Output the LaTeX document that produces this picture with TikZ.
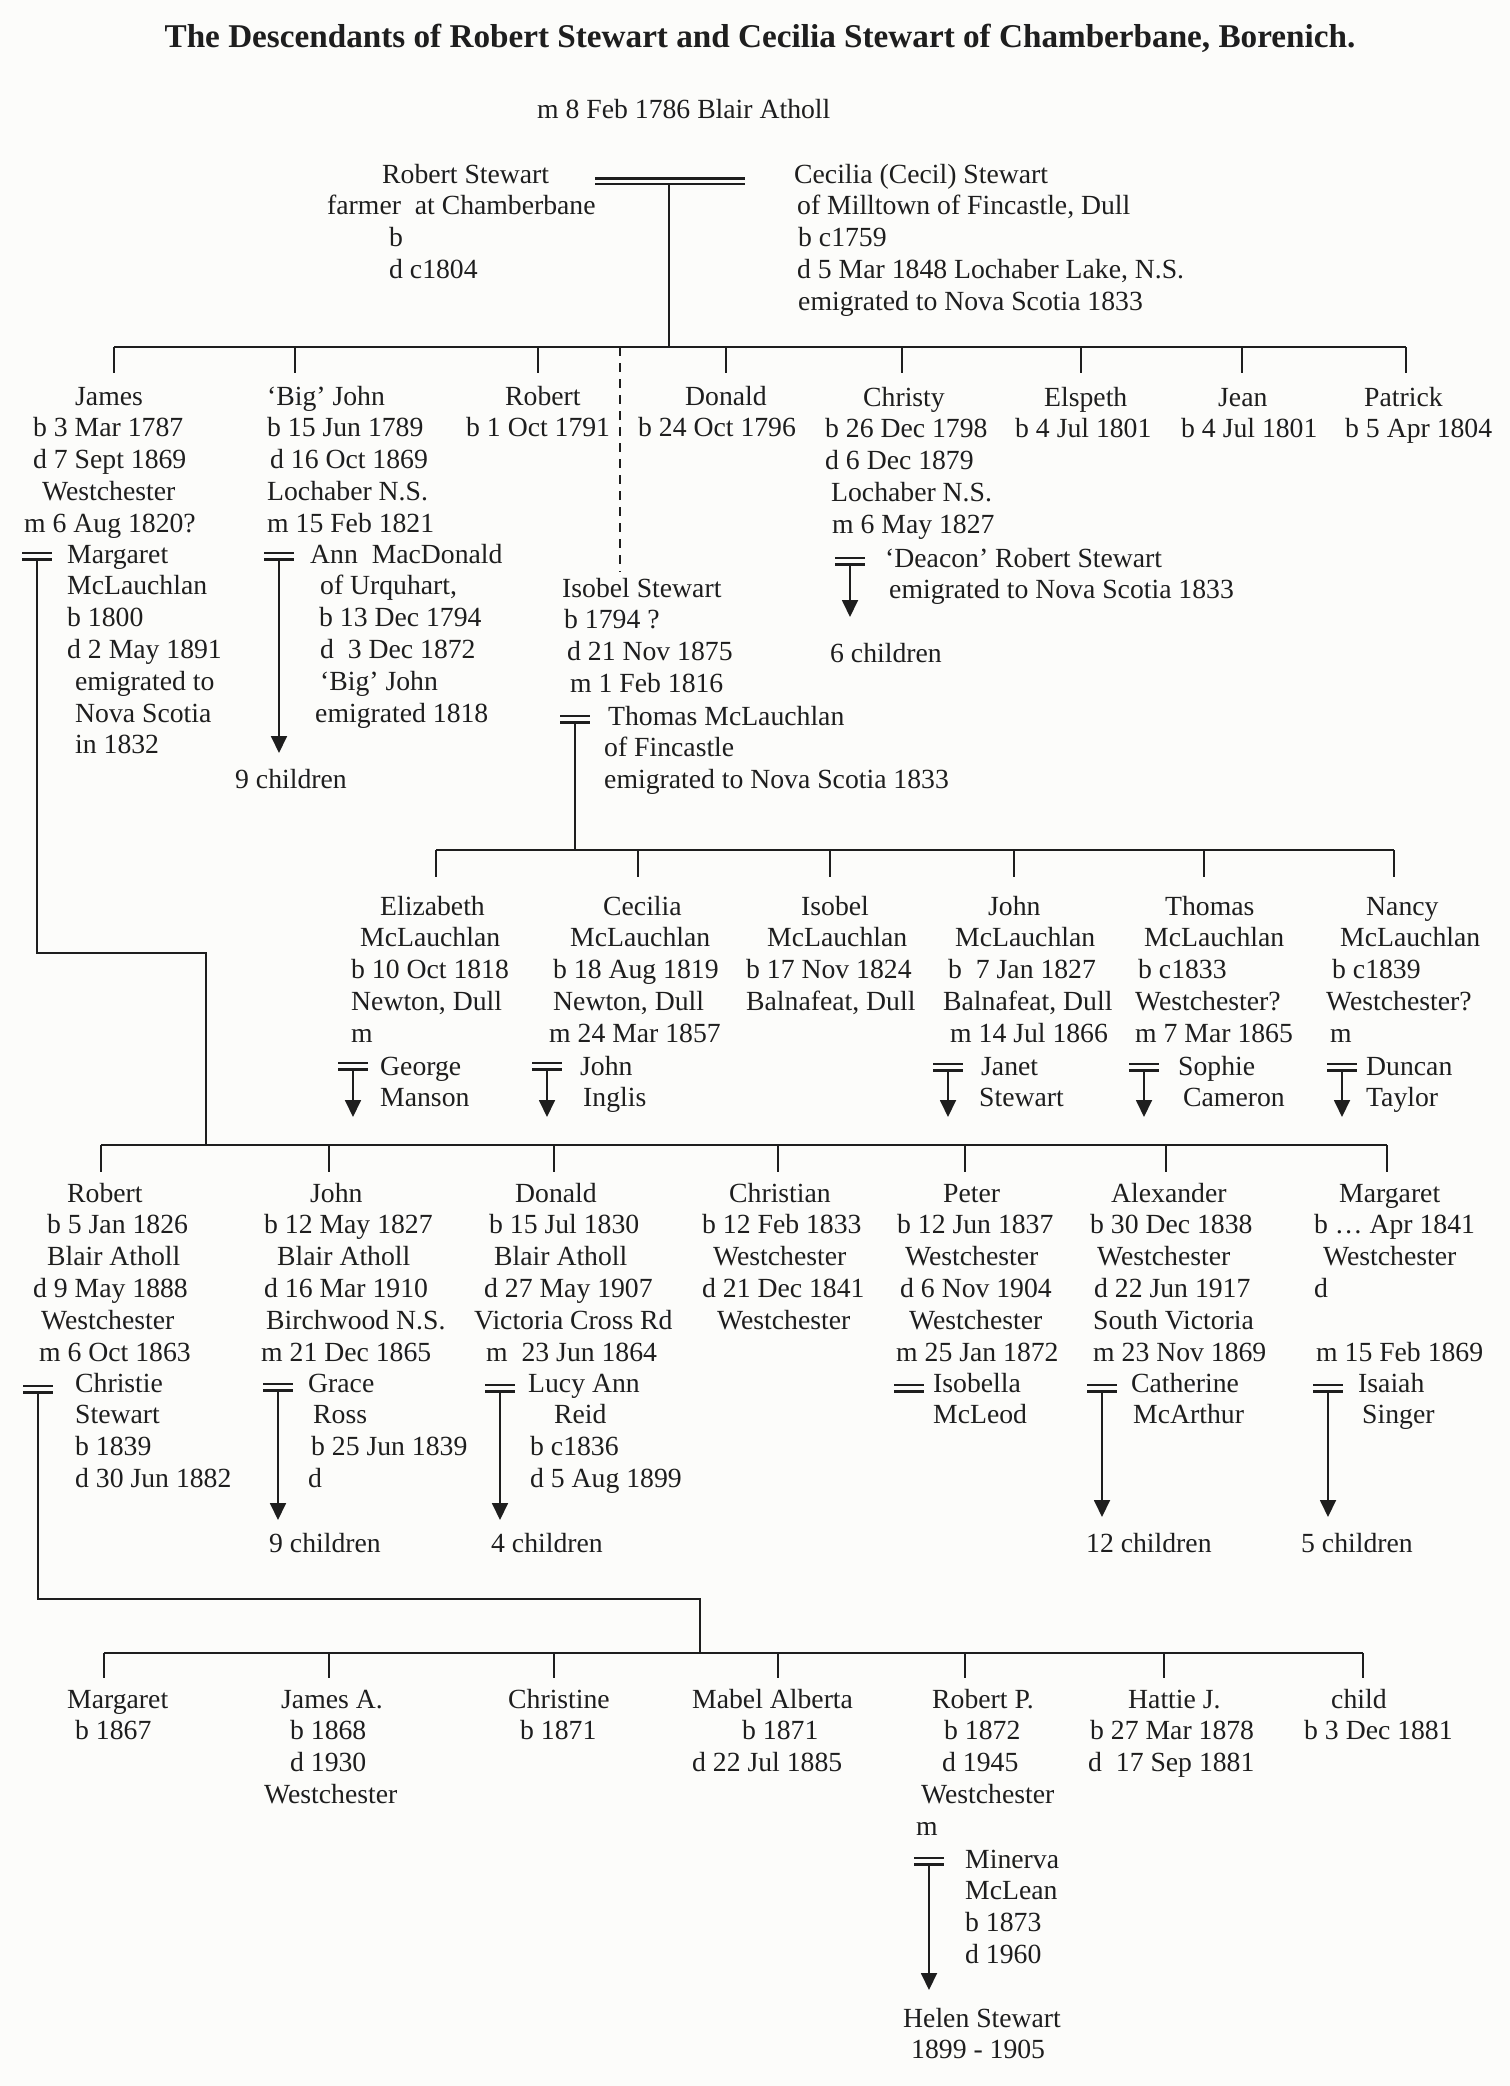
\documentclass[tikz,border=0pt]{standalone}
\usepackage{fontspec}
\setmainfont{Liberation Serif}
\usetikzlibrary{arrows.meta}
\definecolor{ink}{RGB}{30,30,30}
\definecolor{paper}{RGB}{252,252,250}
\newcommand{\indt}[1]{\hspace*{#1pt}}
\newcommand{\tb}[1]{\begin{tabular}[t]{@{}l@{}}#1\end{tabular}}
\newcommand{\mrg}[3]{\coordinate (#1) at (#2,#3+6.5);
  \draw[bar] (#2-15,#3) -- (#2+15,#3) (#2-15,#3+6.5) -- (#2+15,#3+6.5);}
\begin{document}
\begin{tikzpicture}[x=1pt,y=-1pt,
  txt/.style={anchor=base west, inner sep=0pt,
    font=\fontsize{27.7}{31.8}\selectfont, text=ink},
  ln/.style={line width=1.8pt, draw=ink},
  arr/.style={ln, -{Triangle[length=17pt,width=16pt]}},
  dsh/.style={line width=1.5pt, draw=ink, dash pattern=on 9pt off 7pt},
  bar/.style={line width=2.4pt, draw=ink},
]
\fill[paper] (0,0) rectangle (1510,2086);
\useasboundingbox (0,0) rectangle (1510,2086);

% title and founders
\node[anchor=base, inner sep=0pt, font=\fontsize{33.2}{38}\selectfont\bfseries, text=ink] (title) at (760,47)
  {The Descendants of Robert Stewart and Cecilia Stewart of Chamberbane, Borenich.};
\node[txt] (mar0) at (537,118) {m 8 Feb 1786 Blair Atholl};
\node[txt] (robert0) at (327,183) {\tb{\indt{55}Robert Stewart\\farmer\ \ at Chamberbane\\\indt{62}b\\\indt{62}d c1804}};
\node[txt] (cecilia0) at (794,183) {\tb{Cecilia (Cecil) Stewart\\\indt{3}of Milltown of Fincastle, Dull\\\indt{4}b c1759\\\indt{3}d 5 Mar 1848 Lochaber Lake, N.S.\\\indt{4}emigrated to Nova Scotia 1833}};
\draw[bar] (595,178.5) -- (745,178.5) (595,184) -- (745,184);
\coordinate (m0) at (669,184);
\coordinate (g1) at (669,347);
\draw[ln] (m0) -- (g1);

% generation 1 bar
\coordinate (g1l) at (114,347);
\coordinate (g1r) at (1406,347);
\draw[ln] (g1l) -- (g1r);
\foreach \x in {114,295,538,726,902,1081,1242,1406} \draw[ln] (\x,347) -- (\x,373);
\coordinate (dtop) at (620,347);
\coordinate (dbot) at (620,572);
\draw[dsh] (dtop) -- (dbot);

\node[txt] (james) at (24,405) {\tb{\indt{51}James\\\indt{9}b 3 Mar 1787\\\indt{9}d 7 Sept 1869\\\indt{18}Westchester\\m 6 Aug 1820?}};
\node[txt] (bigjohn) at (267,405) {\tb{‘Big’ John\\b 15 Jun 1789\\\indt{3}d 16 Oct 1869\\Lochaber N.S.\\m 15 Feb 1821}};
\node[txt] (robert1) at (466,405) {\tb{\indt{39}Robert\\b 1 Oct 1791}};
\node[txt] (donald1) at (638,405) {\tb{\indt{47}Donald\\b 24 Oct 1796}};
\node[txt] (christy) at (825,406) {\tb{\indt{38}Christy\\b 26 Dec 1798\\d 6 Dec 1879\\\indt{6}Lochaber N.S.\\\indt{7}m 6 May 1827}};
\node[txt] (elspeth) at (1015,406) {\tb{\indt{29}Elspeth\\b 4 Jul 1801}};
\node[txt] (jean) at (1181,406) {\tb{\indt{37}Jean\\b 4 Jul 1801}};
\node[txt] (patrick) at (1345,406) {\tb{\indt{19}Patrick\\b 5 Apr 1804}};

% spouses of generation 1
\node[txt] (margaret1) at (67,563) {\tb{Margaret\\McLauchlan\\b 1800\\d 2 May 1891\\\indt{8}emigrated to\\\indt{8}Nova Scotia\\\indt{8}in 1832}};
\mrg{mj}{37}{553}
\coordinate (jc1) at (37,953);
\coordinate (jc2) at (206,953);
\coordinate (g3) at (206,1145);
\draw[ln] (mj) -- (jc1) -- (jc2) -- (g3);

\node[txt] (ann) at (310,563) {\tb{Ann\ \ MacDonald\\\indt{10}of Urquhart,\\\indt{9}b 13 Dec 1794\\\indt{10}d\ \ 3 Dec 1872\\\indt{10}‘Big’ John\\\indt{5}emigrated 1818}};
\mrg{mbj}{279}{553}
\coordinate (bjt) at (279,753);
\draw[arr] (mbj) -- (bjt);
\node[txt] (bj9) at (235,788) {9 children};

\node[txt] (isobel) at (562,597) {\tb{Isobel Stewart\\\indt{2}b 1794 ?\\\indt{5}d 21 Nov 1875\\\indt{8}m 1 Feb 1816}};
\mrg{mis}{575}{716}
\coordinate (g2) at (575,850);
\draw[ln] (mis) -- (g2);
\node[txt] (thomas) at (604,725) {\tb{\indt{4}Thomas McLauchlan\\of Fincastle\\emigrated to Nova Scotia 1833}};

\mrg{mch}{850}{558}
\coordinate (cht) at (850,617);
\draw[arr] (mch) -- (cht);
\node[txt] (deacon) at (885,567) {\tb{‘Deacon’ Robert Stewart\\\indt{4}emigrated to Nova Scotia 1833}};
\node[txt] (ch6) at (830,662) {6 children};

% generation 2 (Isobel's children)
\coordinate (g2l) at (436,850);
\coordinate (g2r) at (1394,850);
\draw[ln] (g2l) -- (g2r);
\foreach \x in {436,638,830,1014,1204,1394} \draw[ln] (\x,850) -- (\x,877);

\node[txt] (elizabeth) at (351,915) {\tb{\indt{29}Elizabeth\\\indt{9}McLauchlan\\b 10 Oct 1818\\Newton, Dull\\m}};
\node[txt] (cecilia2) at (549,915) {\tb{\indt{54}Cecilia\\\indt{21}McLauchlan\\\indt{4}b 18 Aug 1819\\\indt{4}Newton, Dull\\m 24 Mar 1857}};
\node[txt] (isobel2) at (746,915) {\tb{\indt{55}Isobel\\\indt{21}McLauchlan\\b 17 Nov 1824\\Balnafeat, Dull}};
\node[txt] (john2) at (943,915) {\tb{\indt{45}John\\\indt{12}McLauchlan\\\indt{5}b\ \ 7 Jan 1827\\Balnafeat, Dull\\\indt{7}m 14 Jul 1866}};
\node[txt] (thomas2) at (1135,915) {\tb{\indt{30}Thomas\\\indt{9}McLauchlan\\\indt{3}b c1833\\Westchester?\\m 7 Mar 1865}};
\node[txt] (nancy2) at (1326,915) {\tb{\indt{40}Nancy\\\indt{14}McLauchlan\\\indt{6}b c1839\\Westchester?\\\indt{4}m}};

\mrg{mel}{353}{1063}
\coordinate (elt) at (353,1117);
\draw[arr] (mel) -- (elt);
\node[txt] (george) at (380,1075) {\tb{George\\Manson}};
\mrg{mce}{547}{1063}
\coordinate (cet) at (547,1117);
\draw[arr] (mce) -- (cet);
\node[txt] (inglis) at (580,1075) {\tb{John\\\indt{3}Inglis}};
\mrg{mjo}{948}{1064}
\coordinate (jot) at (948,1117);
\draw[arr] (mjo) -- (jot);
\node[txt] (janet) at (979,1075) {\tb{\indt{2}Janet\\Stewart}};
\mrg{mth}{1144}{1064}
\coordinate (tht) at (1144,1117);
\draw[arr] (mth) -- (tht);
\node[txt] (sophie) at (1178,1075) {\tb{Sophie\\\indt{5}Cameron}};
\mrg{mna}{1342}{1064}
\coordinate (nat) at (1342,1117);
\draw[arr] (mna) -- (nat);
\node[txt] (duncan) at (1366,1075) {\tb{Duncan\\Taylor}};

% generation 3 (James's children)
\coordinate (g3l) at (101,1145);
\coordinate (g3r) at (1387,1145);
\draw[ln] (g3l) -- (g3r);
\foreach \x in {101,329,554,778,965,1166,1387} \draw[ln] (\x,1145) -- (\x,1172);

\node[txt] (robert3) at (33,1202) {\tb{\indt{34}Robert\\\indt{14}b 5 Jan 1826\\\indt{14}Blair Atholl\\d 9 May 1888\\\indt{8}Westchester\\\indt{6}m 6 Oct 1863}};
\node[txt] (christie) at (75,1392) {\tb{Christie\\Stewart\\b 1839\\d 30 Jun 1882}};
\mrg{mro}{38}{1386}
\coordinate (rc1) at (38,1599);
\coordinate (rc2) at (700,1599);
\coordinate (g4) at (700,1653);
\draw[ln] (mro) -- (rc1) -- (rc2) -- (g4);

\node[txt] (john3) at (261,1202) {\tb{\indt{49}John\\\indt{3}b 12 May 1827\\\indt{16}Blair Atholl\\\indt{3}d 16 Mar 1910\\\indt{5}Birchwood N.S.\\m 21 Dec 1865}};
\node[txt] (grace) at (308,1392) {\tb{Grace\\\indt{5}Ross\\\indt{3}b 25 Jun 1839\\d}};
\mrg{mjn}{278}{1384}
\coordinate (jnt) at (278,1520);
\draw[arr] (mjn) -- (jnt);
\node[txt] (jn9) at (269,1552) {9 children};

\node[txt] (donald3) at (474,1202) {\tb{\indt{41}Donald\\\indt{15}b 15 Jul 1830\\\indt{20}Blair Atholl\\\indt{10}d 27 May 1907\\Victoria Cross Rd\\\indt{12}m\ \ 23 Jun 1864}};
\node[txt] (lucy) at (528,1392) {\tb{Lucy Ann\\\indt{26}Reid\\\indt{2}b c1836\\\indt{2}d 5 Aug 1899}};
\mrg{mdo}{500}{1385}
\coordinate (dot) at (500,1520);
\draw[arr] (mdo) -- (dot);
\node[txt] (do4) at (491,1552) {4 children};

\node[txt] (christian) at (702,1202) {\tb{\indt{27}Christian\\b 12 Feb 1833\\\indt{11}Westchester\\d 21 Dec 1841\\\indt{15}Westchester}};

\node[txt] (peter) at (896,1202) {\tb{\indt{47}Peter\\\indt{1}b 12 Jun 1837\\\indt{9}Westchester\\\indt{4}d 6 Nov 1904\\\indt{13}Westchester\\m 25 Jan 1872}};
\node[txt] (isobella) at (933,1392) {\tb{Isobella\\McLeod}};
\mrg{mpe}{909}{1385}

\node[txt] (alexander) at (1090,1202) {\tb{\indt{21}Alexander\\b 30 Dec 1838\\\indt{7}Westchester\\\indt{4}d 22 Jun 1917\\\indt{3}South Victoria\\\indt{3}m 23 Nov 1869}};
\node[txt] (catherine) at (1131,1392) {\tb{Catherine\\\indt{2}McArthur}};
\mrg{mal}{1102}{1385}
\coordinate (alt) at (1102,1517);
\draw[arr] (mal) -- (alt);
\node[txt] (al12) at (1086,1552) {12 children};

\node[txt] (margaret3) at (1314,1202) {\tb{\indt{25}Margaret\\b … Apr 1841\\\indt{9}Westchester\\d\\\mbox{}\\\indt{2}m 15 Feb 1869}};
\node[txt] (isaiah) at (1358,1392) {\tb{Isaiah\\\indt{4}Singer}};
\mrg{mma}{1328}{1385}
\coordinate (mat) at (1328,1517);
\draw[arr] (mma) -- (mat);
\node[txt] (ma5) at (1301,1552) {5 children};

% generation 4 (Robert's children)
\coordinate (g4l) at (104,1653);
\coordinate (g4r) at (1363,1653);
\draw[ln] (g4l) -- (g4r);
\foreach \x in {104,329,554,778,965,1164,1363} \draw[ln] (\x,1653) -- (\x,1678);

\node[txt] (margaret4) at (67,1708) {\tb{Margaret\\\indt{8}b 1867}};
\node[txt] (jamesA) at (264,1708) {\tb{\indt{17}James A.\\\indt{26}b 1868\\\indt{26}d 1930\\Westchester}};
\node[txt] (christine) at (508,1708) {\tb{Christine\\\indt{12}b 1871}};
\node[txt] (mabel) at (692,1708) {\tb{Mabel Alberta\\\indt{50}b 1871\\d 22 Jul 1885}};
\node[txt] (robertP) at (916,1708) {\tb{\indt{16}Robert P.\\\indt{28}b 1872\\\indt{26}d 1945\\\indt{5}Westchester\\m}};
\node[txt] (minerva) at (965,1868) {\tb{Minerva\\McLean\\b 1873\\d 1960}};
\mrg{mrp}{929}{1858}
\coordinate (rpt) at (929,1990);
\draw[arr] (mrp) -- (rpt);
\node[txt] (helen) at (903,2027) {\tb{Helen Stewart\\\indt{8}1899 - 1905}};
\node[txt] (hattie) at (1088,1708) {\tb{\indt{40}Hattie J.\\\indt{2}b 27 Mar 1878\\d\ \ 17 Sep 1881}};
\node[txt] (child) at (1304,1708) {\tb{\indt{27}child\\b 3 Dec 1881}};
\end{tikzpicture}
\end{document}
